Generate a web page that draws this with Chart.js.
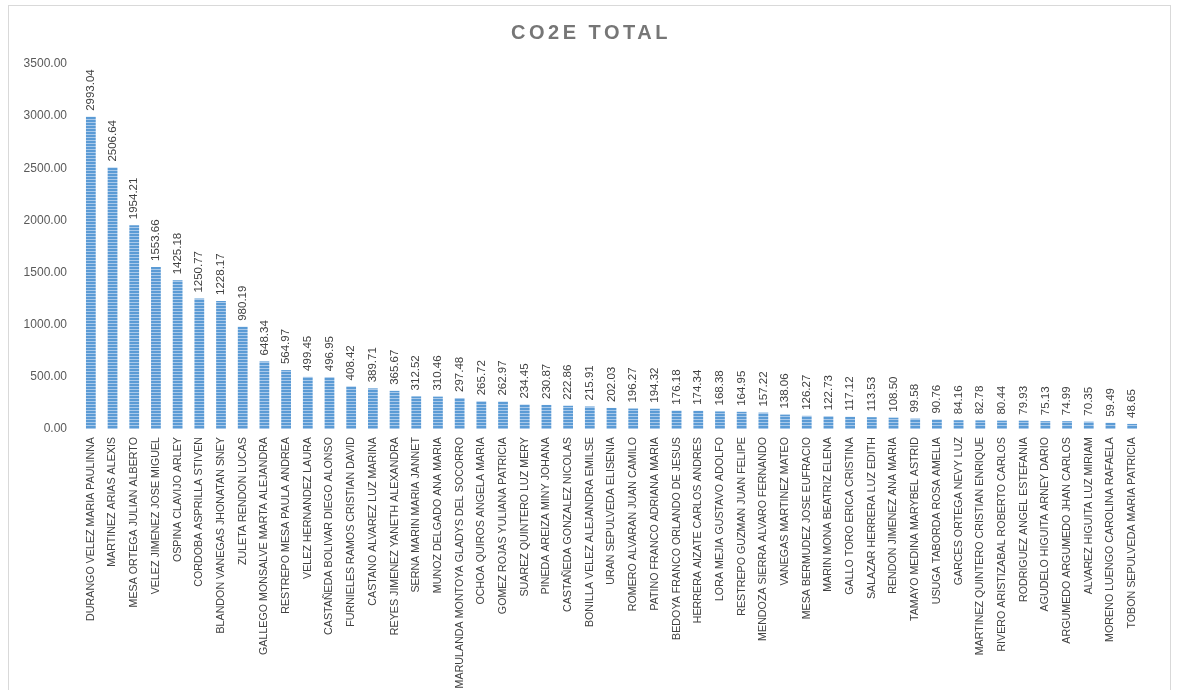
<!DOCTYPE html>
<html>
<head>
<meta charset="utf-8">
<script src="https://cdn.jsdelivr.net/npm/chart.js@4.4.1/dist/chart.umd.min.js"></script>
<style>
  html, body { margin: 0; padding: 0; background: #fff; }
  #wrap { position: relative; width: 1178px; height: 690px; }
  #frame { position: absolute; left: 8px; top: 5px; width: 1161px; height: 700px; border: 1px solid #d9d9d9; pointer-events: none; }
  canvas { position: absolute; left: 0; top: 0; }
</style>
</head>
<body>
<div id="wrap">
  <canvas id="chart" width="1178" height="690"></canvas>
  <div id="frame"></div>
</div>
<script>
const titleText = "CO2E TOTAL"

const names = [
  "DURANGO VELEZ MARIA PAULINNA", "MARTINEZ ARIAS ALEXIS", "MESA ORTEGA JULIAN ALBERTO",
  "VELEZ JIMENEZ JOSE MIGUEL", "OSPINA CLAVIJO ARLEY", "CORDOBA ASPRILLA STIVEN",
  "BLANDON VANEGAS JHONATAN SNEY", "ZULETA RENDON LUCAS", "GALLEGO MONSALVE MARTA ALEJANDRA",
  "RESTREPO MESA PAULA ANDREA", "VELEZ HERNANDEZ LAURA", "CASTAÑEDA BOLIVAR DIEGO ALONSO",
  "FURNIELES RAMOS CRISTIAN DAVID", "CASTANO ALVAREZ LUZ MARINA", "REYES JIMENEZ YANETH ALEXANDRA",
  "SERNA MARIN MARIA JANNET", "MUNOZ DELGADO ANA MARIA", "MARULANDA MONTOYA GLADYS DEL SOCORRO",
  "OCHOA QUIROS ANGELA MARIA", "GOMEZ ROJAS YULIANA PATRICIA", "SUAREZ QUINTERO LUZ MERY",
  "PINEDA AREIZA MINY JOHANA", "CASTAÑEDA GONZALEZ NICOLAS", "BONILLA VELEZ ALEJANDRA EMILSE",
  "URAN SEPULVEDA ELISENIA", "ROMERO ALVARAN JUAN CAMILO", "PATINO FRANCO ADRIANA MARIA",
  "BEDOYA FRANCO ORLANDO DE JESUS", "HERRERA AIZATE CARLOS ANDRES", "LORA MEJIA GUSTAVO ADOLFO",
  "RESTREPO GUZMAN JUAN FELIPE", "MENDOZA SIERRA ALVARO FERNANDO", "VANEGAS MARTINEZ MATEO",
  "MESA BERMUDEZ JOSE EUFRACIO", "MARIN MONA BEATRIZ ELENA", "GALLO TORO ERICA CRISTINA",
  "SALAZAR HERRERA LUZ EDITH", "RENDON JIMENEZ ANA MARIA", "TAMAYO MEDINA MARYBEL ASTRID",
  "USUGA TABORDA ROSA AMELIA", "GARCES ORTEGA NEVY LUZ", "MARTINEZ QUINTERO CRISTIAN ENRIQUE",
  "RIVERO ARISTIZABAL ROBERTO CARLOS", "RODRIGUEZ ANGEL ESTEFANIA", "AGUDELO HIGUITA ARNEY DARIO",
  "ARGUMEDO ARGUMEDO JHAN CARLOS", "ALVAREZ HIGUITA LUZ MIRIAM", "MORENO LUENGO CAROLINA RAFAELA",
  "TOBON SEPULVEDA MARIA PATRICIA"
]

const co2eTotal = [
  2993.04, 2506.64, 1954.21, 1553.66, 1425.18, 1250.77, 1228.17, 980.19, 648.34,
  564.97, 499.45, 496.95, 408.42, 389.71, 365.67, 312.52, 310.46, 297.48,
  265.72, 262.97, 234.45, 230.87, 222.86, 215.91, 202.03, 196.27, 194.32,
  176.18, 174.34, 168.38, 164.95, 157.22, 138.06, 126.27, 122.73, 117.12,
  113.53, 108.50, 99.58, 90.76, 84.16, 82.78, 80.44, 79.93, 75.13,
  74.99, 70.35, 59.49, 48.65
]

const yTicks = [0, 500, 1000, 1500, 2000, 2500, 3000, 3500]

// striped fill like the excel bars
function makeStripes() {
  const c = document.createElement("canvas")
  c.width = 4
  c.height = 3
  const g = c.getContext("2d")
  g.fillStyle = "#5b9bd5"
  g.fillRect(0, 0, 4, 3)
  g.fillStyle = "#a9c9ea"
  g.fillRect(0, 2, 4, 1)
  return g.createPattern(c, "repeat")
}

const titlePlugin = {
  id: "bigTitle",
  afterDraw(chart) {
    const ctx = chart.ctx
    ctx.save()
    ctx.font = "bold 20px 'Liberation Sans', Arial, sans-serif"
    ctx.fillStyle = "#767676"
    ctx.textAlign = "center"
    ctx.textBaseline = "middle"
    if ("letterSpacing" in ctx) ctx.letterSpacing = "3.5px"
    ctx.fillText(titleText, 591, 33)
    ctx.restore()
  }
}

const valueLabels = {
  id: "valueLabels",
  afterDatasetsDraw(chart) {
    const ctx = chart.ctx
    const meta = chart.getDatasetMeta(0)
    ctx.save()
    ctx.font = "11.5px 'Liberation Sans', Arial, sans-serif"
    ctx.fillStyle = "#404040"
    ctx.textAlign = "left"
    ctx.textBaseline = "middle"
    meta.data.forEach((bar, i) => {
      ctx.save()
      ctx.translate(bar.x, bar.y - 6)
      ctx.rotate(-Math.PI / 2)
      ctx.fillText(co2eTotal[i].toFixed(2), 0, 0)
      ctx.restore()
    })
    ctx.restore()
  }
}

const ctx = document.getElementById("chart")
new Chart(ctx, {
  type: "bar",
  data: {
    labels: names,
    datasets: [{
      label: titleText,
      data: co2eTotal,
      backgroundColor: makeStripes(),
      borderWidth: 0,
      barPercentage: 0.45,
      categoryPercentage: 1
    }]
  },
  options: {
    responsive: false,
    animation: false,
    layout: { padding: { top: 64, right: 35, left: 0, bottom: 0 } },
    plugins: {
      legend: { display: false },
      tooltip: { enabled: false }
    },
    scales: {
      x: {
        grid: { display: false, drawTicks: false },
        border: { display: false },
        afterFit: (s) => { s.height = 261 },
        ticks: {
          autoSkip: false,
          minRotation: 90,
          maxRotation: 90,
          padding: 8,
          color: "#404040",
          font: { family: "'Liberation Sans', Arial, sans-serif", size: 10.7 }
        }
      },
      y: {
        min: 0,
        max: 3500,
        afterFit: (s) => { s.width = 80 },
        afterBuildTicks: (s) => { s.ticks = yTicks.map(v => ({ value: v })) },
        grid: { display: false, drawTicks: false },
        border: { display: false },
        ticks: {
          padding: 13,
          color: "#595959",
          font: { family: "'Liberation Sans', Arial, sans-serif", size: 12 },
          callback: (v) => Number(v).toFixed(2)
        }
      }
    }
  },
  plugins: [valueLabels, titlePlugin]
})
</script>
</body>
</html>
